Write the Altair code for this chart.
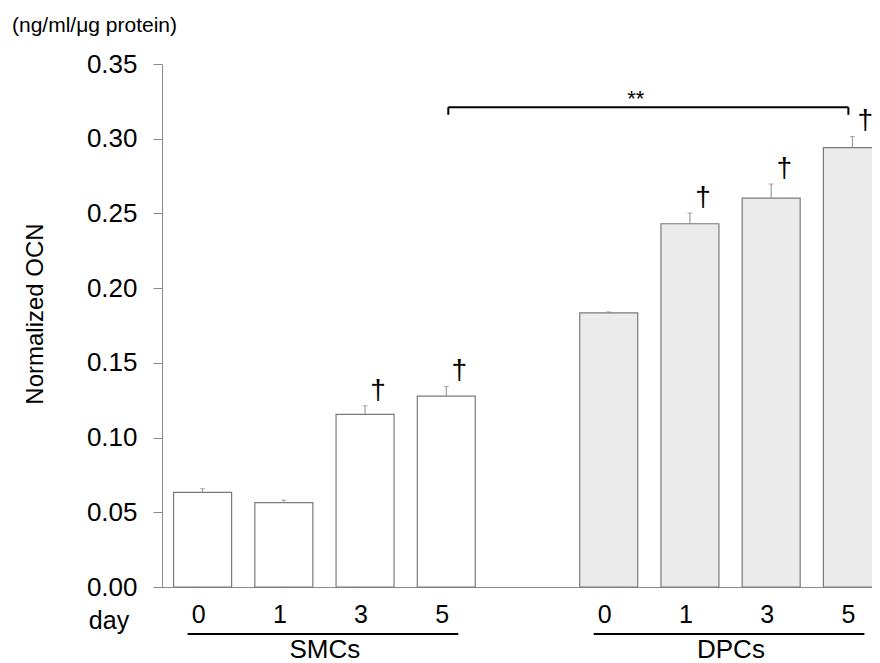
import altair as alt
import pandas as pd

# ---- data ----
slots = ["S0", "S1", "S3", "S5", "gap", "D0", "D1", "D3", "D5"]
bar_slots = ["S0", "S1", "S3", "S5", "D0", "D1", "D3", "D5"]
groups = ["SMCs", "SMCs", "SMCs", "SMCs", "DPCs", "DPCs", "DPCs", "DPCs"]
days = ["0", "1", "3", "5", "0", "1", "3", "5"]
values = [0.0633, 0.0564, 0.1155, 0.1278, 0.1834, 0.2431, 0.2603, 0.2940]
errors = [0.0025, 0.0018, 0.0058, 0.0064, 0.0007, 0.0072, 0.0094, 0.0075]
marks = ["", "", "†", "†", "", "†", "†", "†"]

group_names = ["SMCs", "DPCs"]
group_start = ["S0", "D0"]
group_end = ["S5", "D5"]
group_anchor = ["S1", "D1"]

bracket_left = ["S5"]
bracket_right = ["D5"]
bracket_top = [0.321]
bracket_bottom = [0.316]
bracket_label = ["**"]
bracket_label_at = ["D0"]

y_ticks = [0.0, 0.05, 0.10, 0.15, 0.20, 0.25, 0.30, 0.35]
y_title = "Normalized OCN"
unit_label = "(ng/ml/\u03bcg protein)"
day_label = "day"

FONT = "Liberation Sans"
GREY = "#8a8a8a"

df = pd.DataFrame(dict(slot=bar_slots, group=groups, day=days,
                       value=values, err=errors, mark=marks))
df["top"] = df["value"] + df["err"]
dag = df[df["mark"] != ""]

gdf = pd.DataFrame(dict(group=group_names, start=group_start,
                        end=group_end, anchor=group_anchor))
bdf = pd.DataFrame(dict(left=bracket_left, right=bracket_right, top=bracket_top,
                        bottom=bracket_bottom, label=bracket_label,
                        at=bracket_label_at))
tdf = pd.DataFrame(dict(t=[y_title]))
udf = pd.DataFrame(dict(t=[unit_label]))
ddf = pd.DataFrame(dict(t=[day_label]))

xscale = alt.Scale(domain=slots, range=[0, 731], paddingInner=0.286, paddingOuter=0.143)
yscale = alt.Scale(domain=[0, 0.35], nice=False)
XA = alt.Axis(labels=False, ticks=False, title=None, domainColor=GREY, domainWidth=1)
YA = alt.Axis(values=y_ticks, format=".2f", title=None, grid=False,
              labelFontSize=26, labelFont=FONT, labelColor="black",
              labelPadding=16, tickSize=9, tickColor=GREY,
              domainColor=GREY, domainWidth=1)


def xx(field):
    return alt.X(field, scale=xscale, axis=XA, title=None)


def yy(field):
    return alt.Y(field, scale=yscale, axis=YA, title=None)


bars = alt.Chart(df).mark_bar(stroke="#7a7a7a", strokeWidth=1.2).encode(
    x=xx("slot:N"), y=yy("value:Q"),
    fill=alt.Fill("group:N", scale=alt.Scale(domain=["SMCs", "DPCs"],
                                             range=["#ffffff", "#ebebeb"]),
                  legend=None),
)

err_rule = alt.Chart(df).mark_rule(color=GREY, strokeWidth=1).encode(
    x=xx("slot:N"), y=yy("value:Q"), y2="top:Q",
)
err_cap = alt.Chart(df).mark_tick(orient="horizontal", size=5, thickness=1,
                                  color=GREY).encode(
    x=xx("slot:N"), y=yy("top:Q"),
)

daggers = alt.Chart(dag).mark_text(fontSize=28, font=FONT, dx=13, dy=-7,
                                   baseline="alphabetic", color="black").encode(
    x=xx("slot:N"), y=yy("top:Q"), text="mark:N",
)

day_text = alt.Chart(df).mark_text(fontSize=25, font=FONT, dx=-4,
                                   baseline="middle", color="black").encode(
    x=xx("slot:N"), y=alt.value(551), text="day:N",
)

underline = alt.Chart(gdf).mark_rule(color="black", strokeWidth=2,
                                     xOffset=-15, x2Offset=12).encode(
    x=xx("start:N"), x2="end:N", y=alt.value(570),
)
group_text = alt.Chart(gdf).mark_text(fontSize=26, font=FONT, dx=41,
                                      baseline="middle", color="black").encode(
    x=xx("anchor:N"), y=alt.value(586), text="group:N",
)

br_h = alt.Chart(bdf).mark_rule(color="black", strokeWidth=2,
                                xOffset=2, x2Offset=-4).encode(
    x=xx("left:N"), x2="right:N", y=yy("top:Q"),
)
br_l = alt.Chart(bdf).mark_rule(color="black", strokeWidth=2, xOffset=2).encode(
    x=xx("left:N"), y=yy("top:Q"), y2="bottom:Q",
)
br_r = alt.Chart(bdf).mark_rule(color="black", strokeWidth=2, xOffset=-4).encode(
    x=xx("right:N"), y=yy("top:Q"), y2="bottom:Q",
)
br_txt = alt.Chart(bdf).mark_text(fontSize=22, font=FONT, dx=27, dy=-1,
                                  baseline="alphabetic", color="black").encode(
    x=xx("at:N"), y=yy("top:Q"), text="label:N",
)

title_txt = alt.Chart(tdf).mark_text(fontSize=24, font=FONT, angle=270,
                                     baseline="middle", align="center",
                                     color="black").encode(
    x=alt.value(-126), y=alt.value(250), text="t:N")
unit_txt = alt.Chart(udf).mark_text(fontSize=21, font=FONT, align="left",
                                    baseline="middle", color="black").encode(
    x=alt.value(-150), y=alt.value(-38), text="t:N")
day_lbl = alt.Chart(ddf).mark_text(fontSize=25, font=FONT, align="center",
                                   baseline="middle", color="black").encode(
    x=alt.value(-53), y=alt.value(557), text="t:N")

chart = alt.layer(
    bars, err_rule, err_cap, daggers, day_text, underline, group_text,
    br_h, br_l, br_r, br_txt, title_txt, unit_txt, day_lbl,
).properties(
    width=710, height=523,
    autosize=alt.AutoSizeParams(type="none"),
    padding={"left": 154, "top": 56, "right": 0, "bottom": 76},
).configure_view(stroke=None)

chart.save("out.html", embed_options={"renderer": "svg", "actions": False})
